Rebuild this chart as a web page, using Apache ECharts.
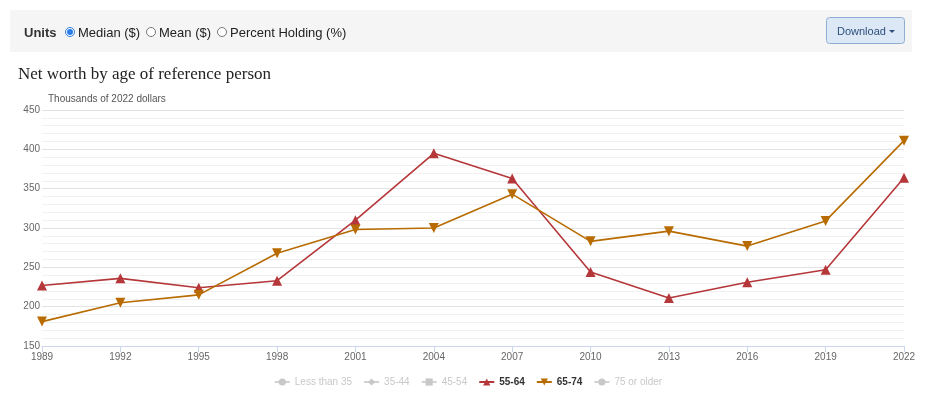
<!DOCTYPE html>
<html>
<head>
<meta charset="utf-8">
<script src="https://cdn.jsdelivr.net/npm/echarts@6/dist/echarts.min.js"></script>
<style>
html,body{margin:0;padding:0;background:#fff;}
#chart{width:936px;height:393px;}
</style>
</head>
<body>
<div id="chart"></div>
<script>
const years = ['1989','1992','1995','1998','2001','2004','2007','2010','2013','2016','2019','2022'];
const age5564 = [227, 236, 224, 233, 310, 395, 363, 244, 211, 231, 247, 364];
const age6574 = [181, 205, 215, 268, 298, 300, 343, 283, 296, 277, 309, 411];
const legendNames = ['Less than 35','35-44','45-54','55-64','65-74','75 or older'];
const activeNames = ['55-64','65-74'];
const yTicks = {min:150, max:450, step:50};

const chart = echarts.init(document.getElementById('chart'));
const font = 'Liberation Sans, Arial, sans-serif';
const red = '#b5373a', orange = '#b86b00';

function emptySeries(name, symbol){
  return {name, type:'line', data:[], symbol, symbolSize:9, itemStyle:{color:'#999'}};
}
const selected = {};
legendNames.forEach(n => selected[n] = activeNames.includes(n));

chart.setOption({
  animation:false,
  textStyle:{fontFamily:font},
  grid:{left:42, right:32, top:110, bottom:47},
  graphic:[
    {type:'rect', shape:{x:10,y:10,width:902,height:42}, style:{fill:'#f5f5f5'}, silent:true},
    {type:'text', left:24, top:27, style:{text:'Units', fontSize:13, fontWeight:'bold', fontFamily:font, fill:'#333'}},
    {type:'circle', shape:{cx:70, cy:32, r:4.5}, style:{fill:'#fff', stroke:'#2b7de9', lineWidth:1}},
    {type:'circle', shape:{cx:70, cy:32, r:3}, style:{fill:'#2b7de9'}},
    {type:'text', left:78, top:27, style:{text:'Median ($)', fontSize:13, fontFamily:font, fill:'#222'}},
    {type:'circle', shape:{cx:151, cy:32, r:4.5}, style:{fill:'#fff', stroke:'#777', lineWidth:1}},
    {type:'text', left:159, top:27, style:{text:'Mean ($)', fontSize:13, fontFamily:font, fill:'#222'}},
    {type:'circle', shape:{cx:222, cy:32, r:4.5}, style:{fill:'#fff', stroke:'#777', lineWidth:1}},
    {type:'text', left:230, top:27, style:{text:'Percent Holding (%)', fontSize:13, fontFamily:font, fill:'#222'}},
    {type:'rect', shape:{x:826.5,y:17.5,width:78,height:26,r:3}, style:{fill:'#dde8f7', stroke:'#8fadd3', lineWidth:1}},
    {type:'text', left:837, top:26, style:{text:'Download', fontSize:11, fontFamily:font, fill:'#2c4f7c'}},
    {type:'polygon', shape:{points:[[889,30],[895,30],[892,33]]}, style:{fill:'#2c4f7c'}},
    {type:'text', left:18, top:66, style:{text:'Net worth by age of reference person', fontSize:17, fontFamily:'Liberation Serif, DejaVu Serif, serif', fill:'#222'}},
    {type:'text', left:48, top:94, style:{text:'Thousands of 2022 dollars', fontSize:10, fontFamily:font, fill:'#555'}}
  ],
  legend:{
    top:372, left:'center', itemGap:11, itemWidth:15, itemHeight:9,
    inactiveColor:'#c8c8c8',
    textStyle:{fontSize:10, color:'#333', fontFamily:font},
    data:legendNames.map(n=>({name:n, textStyle:{fontWeight: activeNames.includes(n) ? 'bold' : 'normal'}})),
    selected
  },
  xAxis:{
    type:'category', data:years, boundaryGap:false,
    axisLine:{lineStyle:{color:'#ccd6eb'}},
    axisTick:{show:true, length:6, lineStyle:{color:'#ccd6eb'}},
    axisLabel:{color:'#666', fontSize:10, margin:6, showMinLabel:true, showMaxLabel:true, interval:0},
    splitLine:{show:false}
  },
  yAxis:{
    type:'value', min:yTicks.min, max:yTicks.max, interval:yTicks.step,
    axisLine:{show:false}, axisTick:{show:false},
    axisLabel:{color:'#666', fontSize:10, margin:2},
    splitLine:{lineStyle:{color:'#e3e3e3'}},
    minorTick:{show:false, splitNumber:5},
    minorSplitLine:{show:true, lineStyle:{color:'#f0f0f0'}}
  },
  series:[
    emptySeries('Less than 35','circle'),
    emptySeries('35-44','diamond'),
    emptySeries('45-54','rect'),
    {name:'55-64', type:'line', data:age5564, symbol:'triangle', symbolSize:10,
     lineStyle:{color:red, width:1.6}, itemStyle:{color:red}},
    {name:'65-74', type:'line', data:age6574, symbol:'triangle', symbolRotate:180, symbolSize:10,
     lineStyle:{color:orange, width:1.6}, itemStyle:{color:orange}},
    emptySeries('75 or older','circle')
  ]
});
</script>
</body>
</html>
